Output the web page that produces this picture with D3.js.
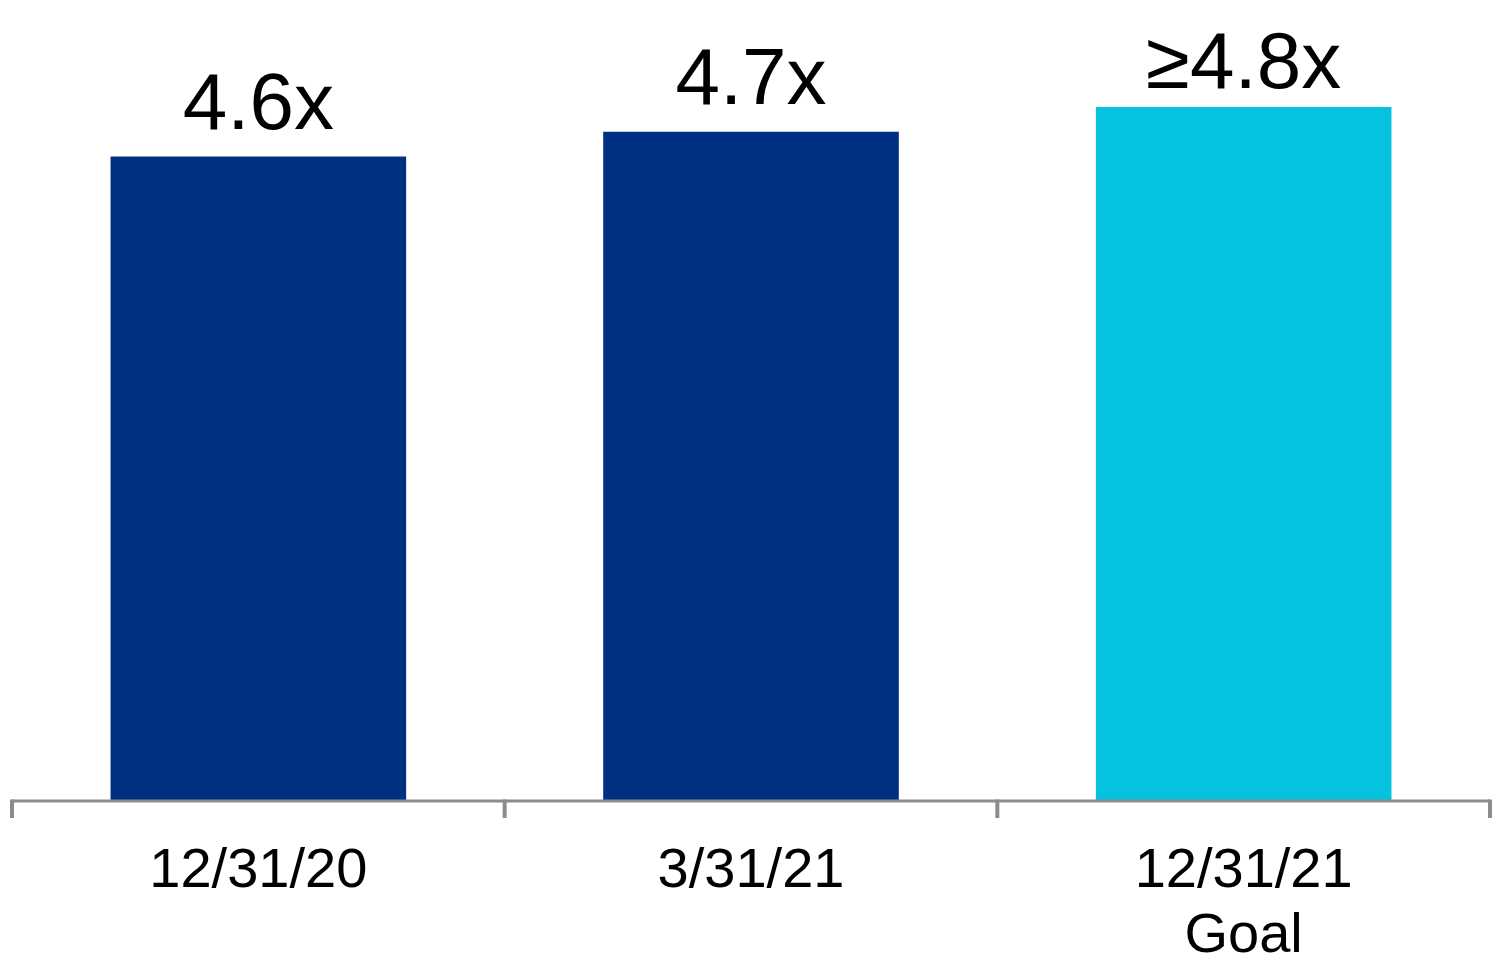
<!DOCTYPE html>
<html>
<head>
<meta charset="utf-8">
<script src="https://cdn.jsdelivr.net/npm/d3@7"></script>
<style>
  html, body { margin: 0; padding: 0; background: #ffffff; }
  svg { display: block; }
  text { font-family: "Liberation Sans", Arial, sans-serif; fill: #000; }
</style>
</head>
<body>
<svg id="chart" width="1500" height="968"></svg>
<script>
const categories = ["12/31/20", "3/31/21", "12/31/21"];
const categorySub = ["", "", "Goal"];
const values = [4.6, 4.7, 4.8];
const valueLabels = ["4.6x", "4.7x", "\u22654.8x"];
const colors = ["#003082", "#003082", "#05C3DE"];

const svg = d3.select("#chart");
const x0 = 12, x1 = 1490, baseY = 800;

const x = d3.scaleBand().domain(categories).range([x0, x1]).paddingInner(0.4).paddingOuter(0.2);
const y = d3.scaleLinear().domain([2.0, 4.8]).range([baseY, 107]);

svg.selectAll("rect.bar").data(values).enter().append("rect")
  .attr("class", "bar")
  .attr("x", (d, i) => x(categories[i]))
  .attr("width", x.bandwidth())
  .attr("y", d => y(d))
  .attr("height", d => baseY - y(d))
  .attr("fill", (d, i) => colors[i]);

// value labels
svg.selectAll("text.val").data(values).enter().append("text")
  .attr("class", "val")
  .attr("x", (d, i) => x(categories[i]) + x.bandwidth() / 2)
  .attr("y", (d, i) => y(d) - (i === 2 ? 19 : 28))
  .attr("text-anchor", "middle")
  .attr("font-size", 80)
  .text((d, i) => valueLabels[i]);

// axis
const axisG = svg.append("g");
axisG.append("line")
  .attr("x1", x0).attr("x2", x1)
  .attr("y1", baseY + 1).attr("y2", baseY + 1)
  .attr("stroke", "#8c8c8c").attr("stroke-width", 3);
const step = x.step();
const tickXs = d3.range(categories.length + 1).map(i => x0 + i * (x1 - x0) / categories.length);
axisG.selectAll("line.tick").data(tickXs).enter().append("line")
  .attr("class", "tick")
  .attr("x1", d => d).attr("x2", d => d)
  .attr("y1", baseY - 0.5).attr("y2", baseY + 18)
  .attr("stroke", "#8c8c8c").attr("stroke-width", 4);

// category labels
const catG = svg.selectAll("g.cat").data(categories).enter().append("g").attr("class", "cat");
catG.append("text")
  .attr("x", d => x(d) + x.bandwidth() / 2)
  .attr("y", 887)
  .attr("text-anchor", "middle")
  .attr("font-size", 56)
  .text(d => d);
catG.append("text")
  .attr("x", d => x(d) + x.bandwidth() / 2)
  .attr("y", 952)
  .attr("text-anchor", "middle")
  .attr("font-size", 56)
  .text((d, i) => categorySub[i]);
</script>
</body>
</html>
